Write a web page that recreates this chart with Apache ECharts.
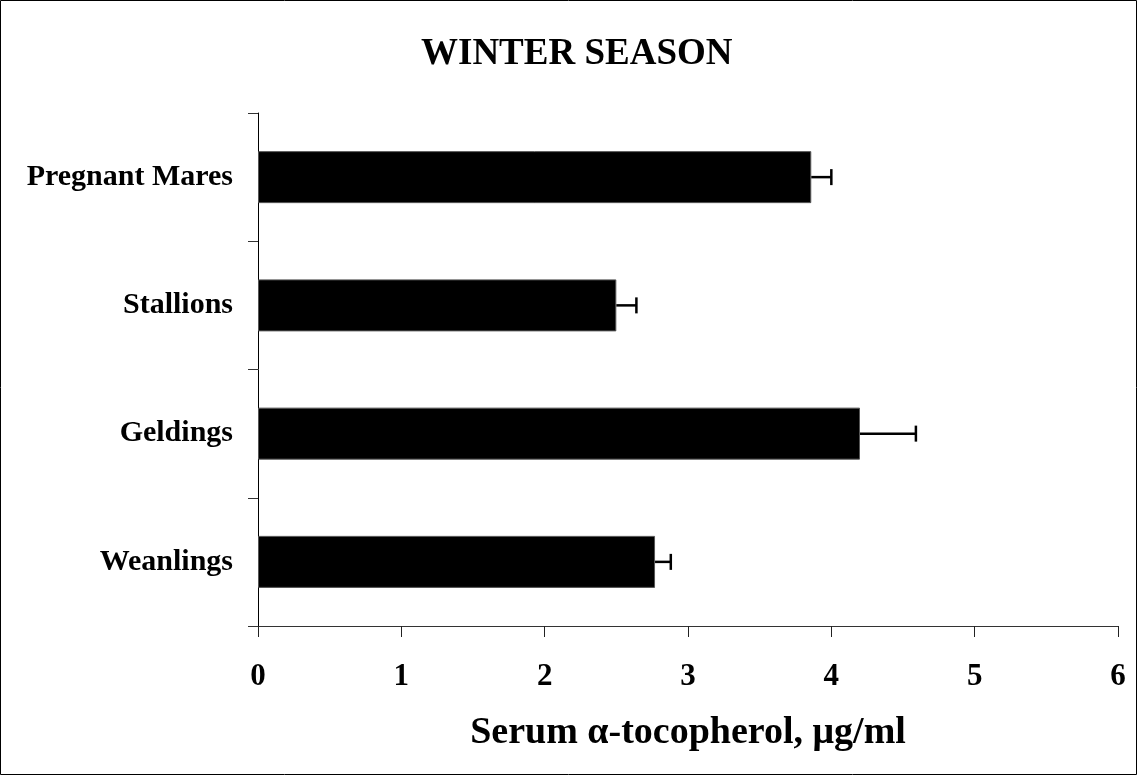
<!DOCTYPE html>
<html>
<head>
<meta charset="utf-8">
<script src="https://cdn.jsdelivr.net/npm/echarts@6/dist/echarts.min.js"></script>
<style>
  html, body { margin: 0; padding: 0; background: #fff; }
  #chart { width: 1138px; height: 776px; }
</style>
</head>
<body>
<div id="chart"></div>
<script>
// categories bottom -> top
const groups = ['Weanlings', 'Geldings', 'Stallions', 'Pregnant Mares'];
const means = [2.77, 4.20, 2.50, 3.86];
const errors = [0.11, 0.39, 0.14, 0.14];
const xTicks = [0, 1, 2, 3, 4, 5, 6];

const font = '"Liberation Serif", "Times New Roman", serif';
const myChart = echarts.init(document.getElementById('chart'));

// error bar: horizontal line from bar end + vertical cap
const renderError = (params, api) => {
  const cat = api.value(0);
  const mean = api.value(1);
  const err = api.value(2);
  const start = api.coord([mean, cat]);
  const end = api.coord([mean + err, cat]);
  const half = 8;
  const style = { stroke: '#000', lineWidth: 2.5 };
  return {
    type: 'group',
    children: [
      { type: 'line', shape: { x1: start[0], y1: start[1], x2: end[0], y2: end[1] }, style },
      { type: 'line', shape: { x1: end[0], y1: end[1] - half, x2: end[0], y2: end[1] + half }, style }
    ]
  };
};

const option = {
  animation: false,
  backgroundColor: '#fff',
  title: {
    text: 'WINTER SEASON',
    left: 421,
    top: 36,
    padding: 0,
    textStyle: { fontFamily: font, fontWeight: 'bold', fontSize: 37, color: '#000' }
  },
  grid: { left: 258, right: 20, top: 113, bottom: 150 },
  xAxis: {
    type: 'value',
    min: xTicks[0],
    max: xTicks[xTicks.length - 1],
    interval: 1,
    name: 'Serum \u03b1-tocopherol, \u03bcg/ml',
    nameLocation: 'middle',
    nameGap: 88,
    nameTextStyle: { fontFamily: font, fontWeight: 'bold', fontSize: 38, color: '#000' },
    axisLine: { show: true, lineStyle: { color: '#333', width: 1 } },
    axisTick: { show: true, length: 11, lineStyle: { color: '#222' } },
    axisLabel: { fontFamily: font, fontWeight: 'bold', fontSize: 31, color: '#000', margin: 35 },
    splitLine: { show: false }
  },
  yAxis: {
    type: 'category',
    data: groups,
    axisLine: { show: true, lineStyle: { color: '#000', width: 1 } },
    axisTick: { show: true, length: 10, lineStyle: { color: '#333' } },
    axisLabel: { fontFamily: font, fontWeight: 'bold', fontSize: 30, color: '#000', margin: 25 }
  },
  series: [
    {
      type: 'bar',
      data: means,
      barWidth: 52,
      itemStyle: { color: '#000', borderColor: '#555', borderWidth: 1 },
      z: 2
    },
    {
      type: 'custom',
      renderItem: renderError,
      data: groups.map((g, i) => [i, means[i], errors[i]]),
      encode: { x: 1, y: 0 },
      z: 3
    }
  ],
  graphic: [
    {
      type: 'rect',
      shape: { x: 0.5, y: 0.5, width: 1136, height: 774 },
      style: { fill: 'none', stroke: '#000', lineWidth: 1 }
    }
  ]
};

myChart.setOption(option);
</script>
</body>
</html>
